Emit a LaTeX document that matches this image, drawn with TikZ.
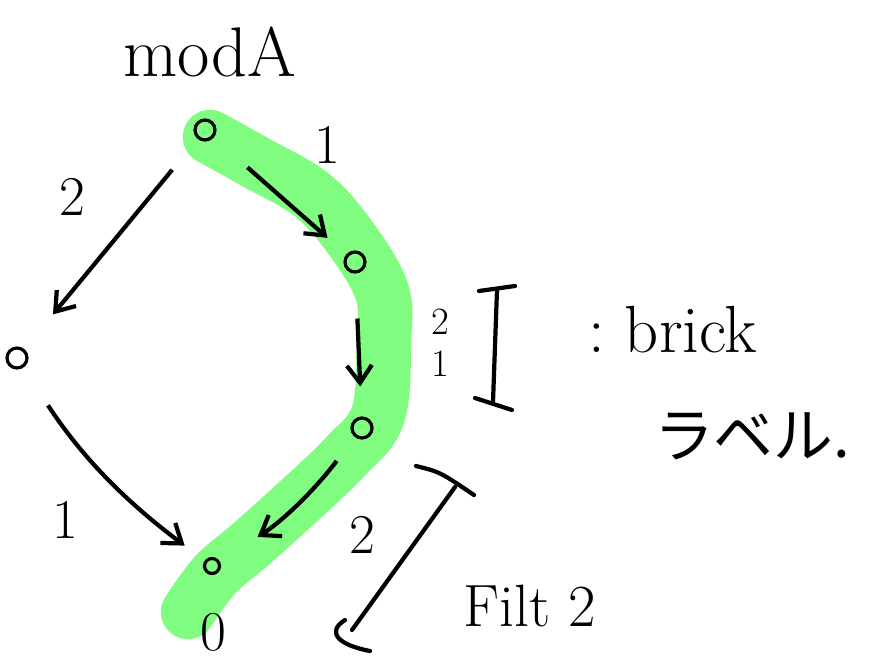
\documentclass[tikz,border=0pt]{standalone}
\usepackage{fontspec}
\newfontfamily\jpfont{Noto Sans CJK JP}
\usetikzlibrary{arrows.meta,positioning}
\definecolor{hlgreen}{RGB}{128,252,128}

\begin{document}
\begin{tikzpicture}[x=0.02cm, y=-0.02cm,
  >={Straight Barb[length=3.5mm,width=5mm]},
  vtx/.style={draw, circle, line width=1.8pt, minimum size=4mm, inner sep=0pt},
  arr/.style={->, line width=2.4pt},
  lbl/.style={font=\fontsize{32}{34}\selectfont, inner sep=1pt},
  hl/.style={line width=31pt, line cap=round, line join=round, draw=hlgreen},
  brk/.style={line width=2.4pt, line cap=round}]
  \useasboundingbox (0,0) rectangle (873,666);

  % highlighted chain
  \draw[hl] plot[smooth, tension=0.6] coordinates {(210,137) (255,162) (312,195)
    (352,240) (382,292) (384,340) (378,415) (345,457) (300,500) (250,545)
    (215,575) (188,612)};

  % vertices
  \node[vtx] (top) at (205,130) {};
  \node[vtx] (left) at (17,358) {};
  \node[vtx] (r1) at (355,262) {};
  \node[vtx] (r2) at (362,428) {};
  \node[vtx, minimum size=3mm] (bot) at (212,566) {};
  \node[lbl] (zero) at (213,632) {0};

  % arrows
  \draw[arr, shorten <=8mm, shorten >=9mm] (top) -- (left);
  \draw[arr, shorten <=9mm, shorten >=5mm, bend right=10] (left) to (bot);
  \draw[arr, shorten <=9mm, shorten >=5mm] (top) -- (r1);
  \draw[arr, shorten <=9mm, shorten >=6mm] (r1) -- (r2);
  \draw[arr, shorten <=6mm, shorten >=9mm, bend left=10] (r2) to (bot);

  % labels
  \node[font=\fontsize{40}{42}\selectfont] (title) at (210,52) {modA};
  \node[lbl] (l2a) at (72,197) {2};
  \node[lbl] (l1a) at (65,520) {1};
  \node[lbl] (l1b) at (327,145) {1};
  \node[lbl] (l2b) at (362,535) {2};
  \node[font=\fontsize{22}{24}\selectfont, align=center, inner sep=0pt] (l21) at (440,343) {2\\1};

  % brick bracket
  \coordinate (bt) at (497,290);
  \coordinate (bb) at (493,402);
  \draw[brk] (479,291) -- (515,286);
  \draw[brk] (bt) -- (bb);
  \draw[brk] (475,398) -- (512,410);
  \node[font=\fontsize{38}{40}\selectfont, anchor=base west] (brick) at (582,352) {:\ brick};
  \node[font=\fontsize{34}{36}\selectfont\jpfont] (label) at (752,436) {ラベル.};

  % filtration bracket
  \coordinate (ft) at (455,487);
  \coordinate (fb) at (352,630);
  \draw[brk] (416,466) .. controls (440,472) .. (474,495);
  \draw[brk] (ft) -- (fb);
  \draw[brk] (345,620) .. controls (326,632) and (338,645) .. (370,651);
  \node[font=\fontsize{34}{36}\selectfont, inner sep=0pt] (filt) at (530,606) {Filt 2};
\end{tikzpicture}
\end{document}
